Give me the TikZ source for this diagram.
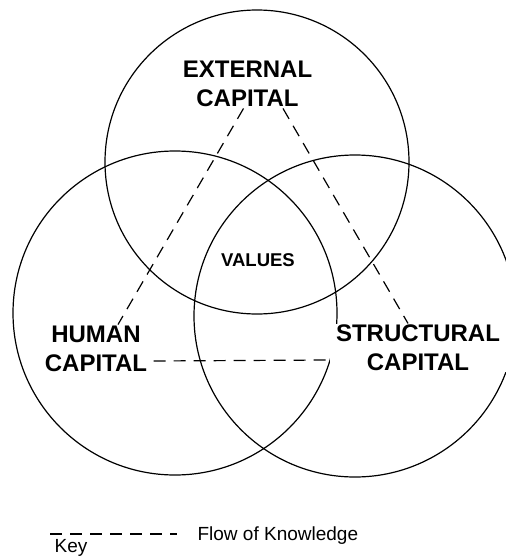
\documentclass[tikz,border=0pt]{standalone}
\usepackage{fontspec}
\setmainfont{Liberation Sans}
\usepackage{tikz}
\usetikzlibrary{positioning, calc}

\begin{document}
\begin{tikzpicture}[x=1pt, y=-1pt, line width=1.2pt,
		capital/.style={align=center, fill=white, inner xsep=6pt, inner ysep=1pt,
			font=\fontsize{24}{29}\selectfont\bfseries},
		legend/.style={inner sep=0pt, font=\fontsize{19}{23}\selectfont},
		flow/.style={dash pattern=on 12pt off 8pt}]
	\useasboundingbox (0, 0) rectangle (506, 557);
	
	% the three circles
	\draw (257, 162) circle (152pt);
	\draw (175, 313) circle (162pt);
	\draw (355, 316) circle (161pt);
	
	\node[capital] (ext) at (247.5, 84)  {EXTERNAL\\CAPITAL};
	\node[capital] (hum) at (96, 349)    {HUMAN\\CAPITAL};
	\node[capital] (str) at (418, 348)   {STRUCTURAL\\CAPITAL};
	\node[font=\fontsize{18.5}{22}\selectfont\bfseries] (val) at (258, 260) {VALUES};
	
	\draw[flow] ([xshift=-4pt]ext.south) -- ([xshift=22pt]hum.north);
	\draw[flow] ([xshift=35.5pt]ext.south) -- ([xshift=-10pt]str.north);
	\draw[flow] ([yshift=-12pt]hum.east) -- ([yshift=-12pt]str.west);
	
	% key
	\coordinate (k1) at (50, 534);
	\coordinate (k2) at (177, 534);
	\draw[flow] (k1) -- (k2);
	\node[legend, anchor=base west] (flow) at (197, 540) {Flow of Knowledge};
	\node[legend, anchor=base west] (key)  at (54, 552.5)  {Key};
\end{tikzpicture}
\end{document}
